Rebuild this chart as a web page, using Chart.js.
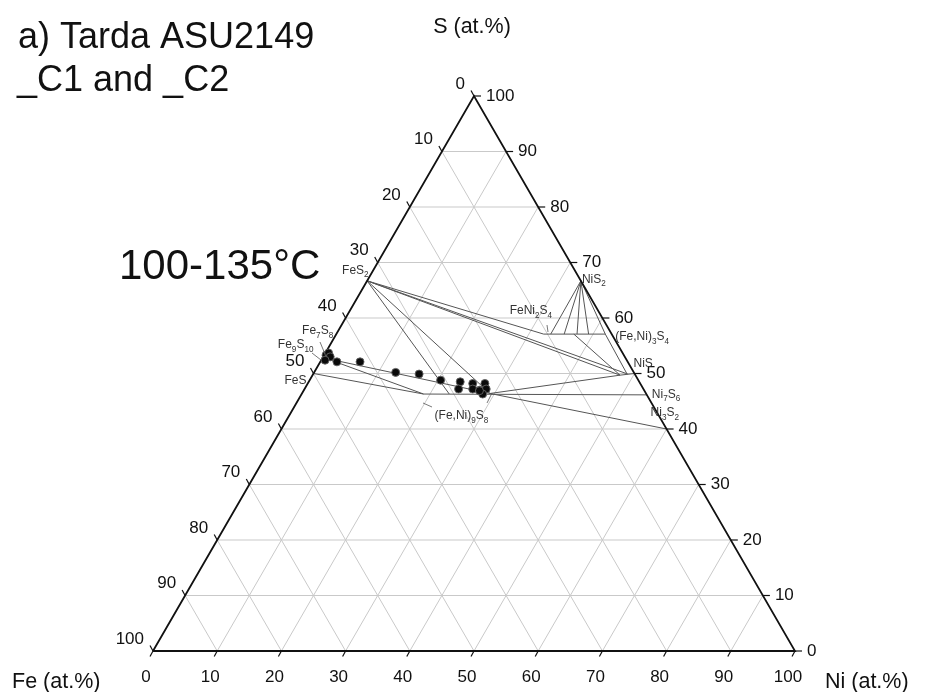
<!DOCTYPE html>
<html><head><meta charset="utf-8">
<script src="https://cdn.jsdelivr.net/npm/chart.js@4.4.1/dist/chart.umd.min.js"></script>
<style>html,body{margin:0;padding:0;background:#fff;}canvas{display:block;}</style>
</head><body>
<canvas id="c" width="925" height="692"></canvas>
<script>
// ---------- DATA (compositions in at.%) ----------
const axisTicks = [0,10,20,30,40,50,60,70,80,90,100];

// measured analyses (Ni, S at.%; Fe = 100 - Ni - S)
const analysisNi = [0.3, 0.5, 1.1, 0.6, 2.6, 6.2, 12.7, 16.5, 20.4, 23.6, 24.0, 25.7, 26.2, 27.4, 27.6, 28.3, 28.2, 27.4];
const analysisS  = [53.3, 53.7, 53.0, 52.4, 52.1, 52.1, 50.2, 49.9, 48.8, 48.5, 47.2, 48.2, 47.2, 47.0, 48.2, 47.2, 46.3, 46.9];

// phases
const phaseNames = ['FeS_2','NiS_2','FeNi_2S_4','(Fe,Ni)_3S_4','NiS','Ni_7S_6','Ni_3S_2','Fe_7S_8','Fe_9S_10','FeS','(Fe,Ni)_9S_8'];
const phaseNi = [0, 33.3, 32.3, 41.9, 50, 53.85, 60, 0, 0, 0, 19.0];
const phaseS  = [66.7, 66.7, 57.1, 57.1, 50, 46.15, 40, 53.3, 52.6, 50, 46.3];

// tie lines / phase fields (from -> to)
const tieFromNi = [0,    0,    0,    0,    0,    0.65, 0.65, 0,    19.0,  29.3, 29.3, 47.9, 32.3, 33.3, 33.3, 33.3, 33.3, 33.3, 37.0, 41.9];
const tieFromS  = [66.7, 66.7, 66.7, 66.7, 66.7, 52.7, 52.7, 50,   46.3,  46.4, 46.4, 49.7, 57.1, 66.7, 66.7, 66.7, 66.7, 66.7, 57.1, 57.1];
const tieToNi   = [32.3, 47.9, 49.0, 23.0, 29.3, 19.0, 29.3, 19.0, 53.85, 47.9, 60,   50,   41.9, 33.4, 35.5, 37.5, 39.3, 41.9, 47.9, 48.8];
const tieToS    = [57.1, 49.7, 49.9, 46.3, 46.4, 46.3, 46.4, 46.3, 46.15, 49.7, 40,   50,   57.1, 57.1, 57.1, 57.1, 57.1, 57.1, 49.7, 50.0];

// ---------- helpers ----------
const H = Math.sqrt(3)/2;
function tern(ni, s){ return {x: ni + s/2, y: s*H}; }

const gridPts = [];
for (const k of axisTicks) {
  if (k === 0 || k === 100) continue;
  gridPts.push(tern(0,k), tern(100-k,k), {x:null,y:null});          // S const
  gridPts.push(tern(k,0), tern(k,100-k), {x:null,y:null});          // Ni const
  gridPts.push(tern(100-k,0), tern(0,100-k), {x:null,y:null});      // Fe const
}
const tiePts = [];
tieFromNi.forEach((v,i)=>{ tiePts.push(tern(v,tieFromS[i]), tern(tieToNi[i],tieToS[i]), {x:null,y:null}); });
const edgePts = [tern(0,0), tern(100,0), tern(0,100), tern(0,0)];
const dotPts = analysisNi.map((v,i)=>tern(v, analysisS[i]));

const SANS = '"Liberation Sans", Arial, Helvetica, sans-serif';
const NARROW = '"Liberation Sans Narrow", "Arial Narrow", "Liberation Sans", sans-serif';

// label placement (pixel offsets from phase point: left x, baseline)
const labelLayout = [[-25,-7],[1,2],[-34,-20],[10,6],[-1,-7],[5,3],[-16,-13],[-22,-21],[-44,-11],[-29,10],[11,25]];

function drawChem(ctx, str, x, y, size){
  const parts = str.split(/_(\d+)/);
  parts.forEach((p,i)=>{
    if (!p) return;
    if (i % 2) { ctx.font = (size*0.68)+'px '+SANS; ctx.fillText(p, x, y + size*0.3); }
    else { ctx.font = size+'px '+SANS; ctx.fillText(p, x, y); }
    x += ctx.measureText(p).width;
  });
}

const decor = {
  id: 'decor',
  afterDraw(chart){
    const ctx = chart.ctx, xs = chart.scales.x, ys = chart.scales.y;
    const P = (ni,s)=>{ const t = tern(ni,s); return [xs.getPixelForValue(t.x), ys.getPixelForValue(t.y)]; };
    ctx.save();
    // ticks and tick labels
    ctx.strokeStyle = '#111'; ctx.lineWidth = 1.2; ctx.fillStyle = '#111';
    ctx.font = '17px ' + NARROW; ctx.textBaseline = 'middle';
    for (const k of axisTicks) {
      let [x,y] = P(k,0);
      ctx.beginPath(); ctx.moveTo(x,y); ctx.lineTo(x-3,y+5.5); ctx.stroke();
      ctx.textAlign = 'center'; ctx.fillText(String(k), x-7, y+26);
      [x,y] = P(100-k,k);
      ctx.beginPath(); ctx.moveTo(x,y); ctx.lineTo(x+7,y); ctx.stroke();
      ctx.textAlign = 'left'; ctx.fillText(String(k), x+12, y);
      [x,y] = P(0,100-k);
      ctx.beginPath(); ctx.moveTo(x,y); ctx.lineTo(x-3,y-5.5); ctx.stroke();
      ctx.textAlign = 'right'; ctx.fillText(String(k), x-9, y-12);
    }
    // phase labels
    ctx.fillStyle = '#333'; ctx.textAlign = 'left'; ctx.textBaseline = 'alphabetic';
    phaseNames.forEach((n,i)=>{
      const [x,y] = P(phaseNi[i], phaseS[i]);
      drawChem(ctx, n, x + labelLayout[i][0], y + labelLayout[i][1], 12);
    });
    // leader lines
    ctx.strokeStyle = '#555'; ctx.lineWidth = 0.8;
    [[320,342,325,354],[312,353,321,360],[423,403,432,407],[487,403,492,393],[547,325,548,332]].forEach(l=>{
      ctx.beginPath(); ctx.moveTo(l[0],l[1]); ctx.lineTo(l[2],l[3]); ctx.stroke();
    });
    // titles
    ctx.fillStyle = '#111'; ctx.textAlign = 'left';
    ctx.font = '36px ' + SANS;
    ctx.fillText('a) Tarda ASU2149', 18, 48);
    ctx.fillText('_C1 and _C2', 17, 91);
    ctx.font = '42px ' + SANS;
    ctx.fillText('100-135°C', 119, 279);
    ctx.font = '21.5px ' + SANS;
    ctx.textAlign = 'center';
    ctx.fillText('S (at.%)', 472, 33);
    ctx.textAlign = 'left';
    ctx.fillText('Fe (at.%)', 12, 688);
    ctx.fillText('Ni (at.%)', 825, 688);
    ctx.restore();
  }
};

new Chart(document.getElementById('c'), {
  type: 'scatter',
  data: { datasets: [
    { data: dotPts, order: 0, showLine: false, pointRadius: 4, pointBackgroundColor: '#0a0a0a', pointBorderColor: 'rgba(100,100,100,0.9)', pointBorderWidth: 1, clip: false },
    { data: edgePts, order: 1, showLine: true, pointRadius: 0, borderColor: '#111', borderWidth: 1.8, clip: false },
    { data: tiePts, order: 2, showLine: true, spanGaps: false, pointRadius: 0, borderColor: '#555', borderWidth: 1, clip: false },
    { data: gridPts, order: 3, showLine: true, spanGaps: false, pointRadius: 0, borderColor: '#c9c9c9', borderWidth: 1, clip: false }
  ]},
  options: {
    responsive: false, animation: false, devicePixelRatio: 1,
    layout: { padding: { left: 153, right: 130, top: 96, bottom: 41 } },
    scales: {
      x: { type: 'linear', min: 0, max: 100, display: false },
      y: { type: 'linear', min: 0, max: 100*H, display: false }
    },
    plugins: { legend: { display: false }, tooltip: { enabled: false } }
  },
  plugins: [decor]
});
</script>
</body></html>
